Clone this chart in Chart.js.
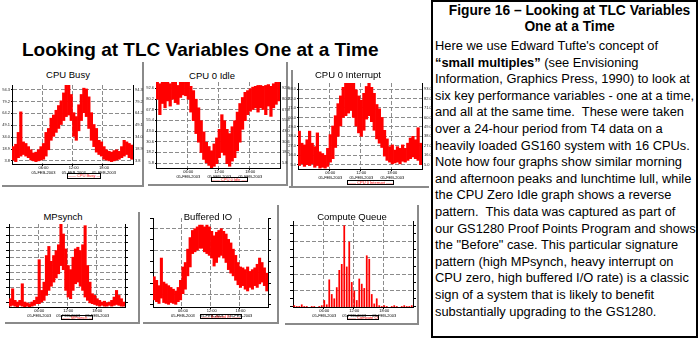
<!DOCTYPE html>
<html><head><meta charset="utf-8">
<script src="https://cdn.jsdelivr.net/npm/chart.js@4/dist/chart.umd.min.js"></script>
<style>
body{margin:0;width:699px;height:339px;background:#fff;position:relative;overflow:hidden;font-family:"Liberation Sans",Arial,sans-serif;}
.a{position:absolute}
.ptitle{position:absolute;width:160px;text-align:center;font:9.5px/10px "Liberation Sans",Arial,sans-serif;color:#000;white-space:nowrap}
.leg{position:absolute;border:1px solid #000;box-sizing:border-box;color:#f00;font:4px/4px "Liberation Sans",Arial,sans-serif;text-align:center;overflow:hidden;white-space:nowrap}
.fr{position:absolute;background:#8a8a8a}
</style></head><body>
<div class="a" style="left:22px;top:40px;font:bold 19px/19px 'Liberation Sans',Arial,sans-serif;white-space:nowrap">Looking at TLC Variables One at a Time</div>

<div class="a" style="left:431px;top:0;width:267px;height:338px;border:2px solid #000;box-sizing:border-box;overflow:hidden">
 <div class="a" style="left:10px;right:0;top:1px;text-align:center;font:bold 13.8px/16px 'Liberation Sans',Arial,sans-serif;white-space:nowrap">Figure 16 – Looking at TLC Variables<br>One at a Time</div>
 <div class="a" style="left:2px;top:36px;font:12.85px/16.6px 'Liberation Sans',Arial,sans-serif;white-space:pre">Here we use Edward Tufte's concept of
<b>“small multiples”</b> (see Envisioning
Information, Graphics Press, 1990) to look at
six key performance variables - one at a time,
and all at the same time.  These were taken
over a 24-hour period from T4 data on a
heavily loaded GS160 system with 16 CPUs.
Note how four graphs show similar morning
and afternoon peaks and lunchtime lull, while
the CPU Zero Idle graph shows a reverse
pattern.  This data was captured as part of
our GS1280 Proof Points Program and shows
the "Before" case. This particular signature
pattern (high MPsynch, heavy interrupt on
CPU zero, high buffered I/O rate) is a classic
sign of a system that is likely to benefit
substantially upgrading to the GS1280.</div>
</div>

<script>
const timeLabels = ["00:00","00:30","01:00","01:30","02:00","02:30","03:00","03:30","04:00","04:30","05:00","05:30",
"06:00","06:30","07:00","07:30","08:00","08:30","09:00","09:30","10:00","10:30","11:00","11:30",
"12:00","12:30","13:00","13:30","14:00","14:30","15:00","15:30","16:00","16:30","17:00","17:30",
"18:00","18:30","19:00","19:30","20:00","20:30","21:00","21:30","22:00","22:30","23:00","23:30"];
const xTickTimes = ["06:00","12:00","18:00"];
const xTickDate = "05-FEB-2003";

const cpuBusyLow  = [5,3,8,10,12,10,8,5,4,3,4,5,6,10,18,30,35,40,45,50,55,60,62,55,35,30,42,55,65,60,45,30,22,15,12,10,6,5,4,3,4,5,6,8,10,12,8,6];
const cpuBusyHigh = [22,25,40,66,28,26,22,18,14,15,18,22,26,40,45,58,62,68,74,80,90,100,100,88,65,60,75,88,96,95,85,65,50,45,30,28,22,18,16,15,17,18,16,22,30,28,26,24];

const cpu0IdleLow  = [80,62,75,70,78,72,80,76,74,82,85,84,80,65,55,40,30,18,10,6,3,0,2,5,12,18,15,5,2,8,12,20,30,45,55,62,66,68,70,65,70,68,62,72,60,70,74,78];
const cpu0IdleHigh = [100,98,100,100,100,98,100,100,96,100,100,100,100,95,90,80,70,55,42,30,25,20,28,35,45,62,55,45,40,48,55,65,75,82,88,90,92,94,95,96,96,95,96,97,95,98,100,100];

const cpu0IntLow  = [4,6,3,5,4,6,2,4,1,2,1,3,8,12,25,38,50,60,62,65,68,60,50,42,38,45,58,62,55,45,35,30,25,15,10,8,6,7,8,6,9,8,10,12,14,12,10,5];
const cpu0IntHigh = [44,30,28,34,44,30,26,42,20,18,16,24,40,50,62,76,85,95,100,100,100,100,92,85,80,88,96,100,95,88,75,70,60,45,35,26,28,22,26,24,28,24,30,36,38,34,48,30];

const mpsynchLow  = [1,2,1,0,2,1,0,1,0,1,2,4,4,6,8,14,20,25,30,35,40,50,45,20,12,10,20,28,30,25,20,12,8,5,4,3,2,1,2,1,1,2,1,2,3,2,1,1];
const mpsynchHigh = [10,22,8,6,8,28,6,5,4,6,8,12,57,20,30,62,73,55,62,68,75,100,88,70,50,45,60,70,72,68,75,98,50,30,16,14,10,8,6,7,5,6,8,12,20,14,10,6];

const bufIoLow  = [8,6,4,10,5,4,3,5,4,3,6,8,15,20,35,45,60,62,64,66,66,62,60,58,55,46,50,56,58,55,50,42,38,35,30,25,22,24,20,18,22,20,24,22,26,28,24,18];
const bufIoHigh = [34,30,24,55,28,26,24,22,20,18,22,30,45,50,65,78,86,88,90,92,92,90,92,90,85,80,84,86,88,85,82,76,72,65,58,50,45,44,42,45,40,42,44,48,55,50,44,38];

const computeQueue = [2,1,1,3,1,1,0,1,1,0,1,2,8,3,32,15,10,23,43,50,95,47,76,29,19,8,33,27,22,60,56,15,4,10,2,1,2,1,0,1,2,1,0,1,2,1,1,2];

const cpuBusyTicks = [3.8,11.4,18.9,26.4,34.0,41.5,49.1,56.6,64.2,71.7,79.2,86.8,94.3];
const cpu0IdleTicks = [5.8,12.0,18.2,24.4,30.6,36.8,43.0,49.2,55.4,61.6,67.8,74.0,80.2,86.4,92.6,98.8];
const cpu0IntTicks = [5.0,10.5,16.0,21.5,27.0,32.5,38.0,43.5,49.0,54.5,60.0,65.5,71.0,76.5,82.0,87.5,93.0,98.5];
const mpsynchTicks = [5.7,14.7,23.7,32.7,41.6,50.6,59.6,68.6,77.6,86.5,95.5];
const bufIoTicks = [2.3,6.4,10.5,14.6,18.7,22.8,26.9,31.0,35.1,39.2,43.3,47.4,51.5,55.6,59.7,63.8,67.9,72.0,76.1,80.2,84.3,88.4,92.5,96.6,100];
const computeQueueTicks = [0.3,3.4,6.6,9.7,12.9,16.0,19.2,22.3,25.5,28.6,31.8,34.9,38.1,41.2,44.4,47.5,50.7,53.8,57.0,60.1,63.3,66.4,69.6,72.7,75.9,79.0,82.2,85.3,88.5,91.6,94.8,97.9];

const FONT = "'Liberation Sans', Arial, sans-serif";
const GRID = '#8c8c8c';
const NONE = 'rgba(0,0,0,0)';

const panels = [
 {title:'CPU Busy', cx:68, ty:70, plot:[12,85,121,79], low:cpuBusyLow, high:cpuBusyHigh, ticks:cpuBusyTicks, labels:true, gridRule:'all', bar:1, leg:[67,173,34,6], frame:{r:[142,62,2,125], b:[2,185,142,2]}},
 {title:'CPU 0 Idle', cx:212, ty:71, plot:[156,82,124,86], low:cpu0IdleLow, high:cpu0IdleHigh, ticks:cpu0IdleTicks, labels:true, gridRule:'all', bar:1, leg:[211,177,37,5], frame:{r:[286,62,2,124], b:[148,184,140,2]}},
 {title:'CPU 0 Interrupt', cx:348, ty:70, plot:[298,83,124,86], low:cpu0IntLow, high:cpu0IntHigh, ticks:cpu0IntTicks, labels:true, gridRule:'all', bar:1, leg:[347,180,47,5], frame:{l:[291,70,2,118], b:[289,186,140,2]}},
 {title:'MPsynch', cx:63, ty:212, plot:[9,224,116,83], low:mpsynchLow, high:mpsynchHigh, ticks:mpsynchTicks, labels:false, gridRule:'all', bar:1, leg:[61,315,32,5], frame:{r:[138,212,2,112], b:[5,322,135,2]}},
 {title:'Buffered IO', cx:208, ty:212, plot:[153,218,115,89], low:bufIoLow, high:bufIoHigh, ticks:bufIoTicks, labels:false, gridRule:'odd', bar:1, leg:[200,314,42,5], frame:{r:[277,205,2,119], b:[143,322,136,2]}},
 {title:'Compute Queue', cx:352, ty:212, plot:[293,221,120,86], low:null, high:computeQueue, ticks:computeQueueTicks, labels:false, gridRule:'even', bar:0.7, leg:[347,315,32,5], frame:{r:[417,205,2,120], b:[285,323,134,2]}}
];

const L=12, R=12, T=4, B=11;

function gridVisible(rule, ctx){
  const i = ctx.index, v = ctx.tick ? ctx.tick.value : 0;
  if (rule === 'odd') return i % 2 === 1 && v < 90;
  if (rule === 'even') return i % 2 === 0 && i >= 2;
  return true;
}

function addDiv(cls, r, html){
  const d=document.createElement('div'); d.className=cls;
  d.style.left=r[0]+'px'; d.style.top=r[1]+'px'; d.style.width=r[2]+'px'; d.style.height=r[3]+'px';
  if(html!==undefined) d.innerHTML=html;
  document.body.appendChild(d); return d;
}

panels.forEach(p=>{
  const t=document.createElement('div'); t.className='ptitle'; t.textContent=p.title;
  t.style.left=(p.cx-80)+'px'; t.style.top=p.ty+'px'; document.body.appendChild(t);
  Object.values(p.frame).forEach(r=>addDiv('fr', r));
  const lg=addDiv('leg', p.leg, '&#8212;&#8212; '+p.title+' &#8212;&#8212;');
  lg.style.lineHeight=(p.leg[3]-2)+'px';

  const c=document.createElement('canvas');
  const w=p.plot[2]+L+R, h=p.plot[3]+T+B;
  c.width=w; c.height=h;
  c.style.cssText='position:absolute;left:'+(p.plot[0]-L)+'px;top:'+(p.plot[1]-T)+'px;width:'+w+'px;height:'+h+'px';
  document.body.appendChild(c);
  const data = p.low ? p.low.map((v,i)=>[v,p.high[i]]) : p.high;
  const yTicks = (side)=>({
    min:0, max:100, position:side,
    afterBuildTicks:s=>{s.ticks=p.ticks.map(v=>({value:v}));},
    ticks:{font:{size:4,family:FONT}, color:'#222', padding:1, callback:v=>p.labels?v.toFixed(1):''},
    grid:{drawOnChartArea: side==='left', color:ctx=>gridVisible(p.gridRule,ctx)?GRID:NONE, lineWidth:1,
          drawTicks:true, tickColor:'#000', tickLength:p.labels?1:3, tickWidth:1},
    border:{display:true, color:'#000', width:1, dash:[4,2]},
    afterFit:s=>{s.width = side==='left'?L:R;}
  });
  new Chart(c,{
    type:'bar',
    data:{labels:timeLabels, datasets:[{data, backgroundColor:'#ff0000', borderWidth:0, barPercentage:p.bar, categoryPercentage:1}]},
    options:{
      responsive:false, animation:false, devicePixelRatio:1,
      layout:{padding:{top:T,left:0,right:0,bottom:0}},
      plugins:{legend:{display:false}, tooltip:{enabled:false}},
      scales:{
        x:{
          ticks:{autoSkip:false, maxRotation:0, minRotation:0, padding:0, font:{size:4,family:FONT,lineHeight:1.1}, color:'#000',
                 callback:(v,i)=>xTickTimes.includes(timeLabels[i])?[timeLabels[i], xTickDate]:''},
          grid:{color:ctx=>xTickTimes.includes(timeLabels[ctx.index])?GRID:NONE, lineWidth:1,
                tickColor:ctx=>xTickTimes.includes(timeLabels[ctx.index])?'#000':NONE, tickLength:2},
          border:{display:true, color:'#000', width:1, dash:[4,2]},
          afterFit:s=>{s.height=B;}
        },
        y: yTicks('left'),
        y2: yTicks('right')
      }
    }
  });
});
</script>
</body></html>
